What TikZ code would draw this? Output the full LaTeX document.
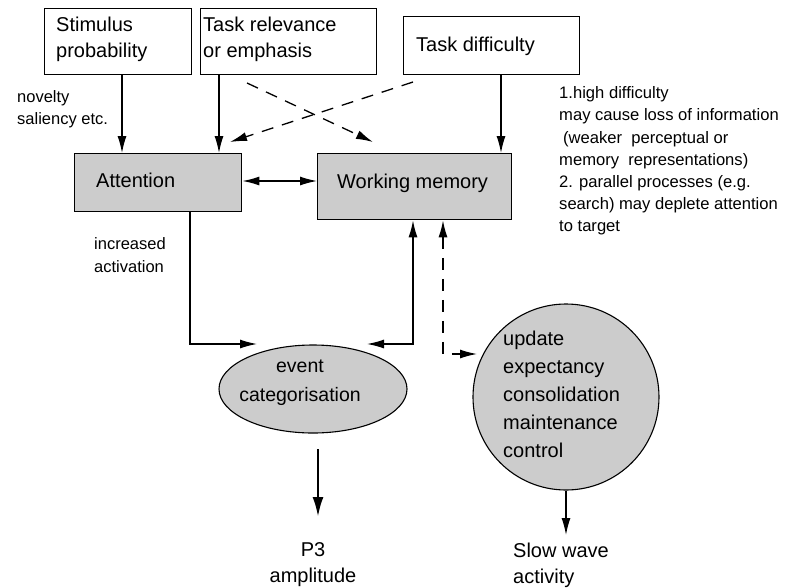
\documentclass[tikz,border=0pt]{standalone}
\usepackage{fontspec}
\setmainfont{Liberation Sans}
\usetikzlibrary{arrows.meta,shapes.geometric,calc}
\definecolor{fillg}{gray}{0.8}
\begin{document}
\begin{tikzpicture}[x=1pt,y=-1pt,
  boxw/.style={draw, line width=1.4pt, rectangle, inner sep=0pt, anchor=north west},
  grayw/.style={boxw, fill=fillg},
  bigtxt/.style={inner sep=0pt, align=left, font=\fontsize{20}{26}\selectfont},
  smalltxt/.style={inner sep=0pt, align=left, font=\fontsize{16.5}{22.5}\selectfont},
  arr/.style={line width=1.3pt, -{Latex[length=17pt,width=9pt]}},
  darr/.style={line width=1.3pt, {Latex[length=17pt,width=9pt]}-{Latex[length=17pt,width=9pt]}},
  dash22/.style={dash pattern=on 12pt off 9pt}
]
\useasboundingbox (0,0) rectangle (788,587);

% top boxes
\node[boxw, minimum width=147pt, minimum height=66pt] (stim) at (44,8) {};
\node[bigtxt, anchor=west] (stimT) at (56,39) {Stimulus\\probability};
\node[boxw, minimum width=176pt, minimum height=66pt] (rel) at (200,8) {};
\node[bigtxt, anchor=west] (relT) at (203,39) {Task relevance\\or emphasis};
\node[boxw, minimum width=176pt, minimum height=58pt] (diff) at (403,16) {};
\node[bigtxt, anchor=west] (diffT) at (416,46) {Task difficulty};

% gray boxes
\node[grayw, minimum width=167pt, minimum height=58pt] (att) at (74,153) {};
\node[bigtxt, anchor=west] (attT) at (96,180) {Attention};
\node[grayw, minimum width=194pt, minimum height=66pt] (wm) at (317,153) {};
\node[bigtxt, anchor=west] (wmT) at (337,183) {Working memory};

% side texts
\node[smalltxt, anchor=west] (nov) at (17,109) {novelty\\saliency etc.};
\node[smalltxt, anchor=west] (inc) at (94,255) {increased\\activation};
\node[inner sep=0pt, align=left, font=\fontsize{16.6}{22.2}\selectfont, anchor=west] (note) at (559,161)
  {1.high difficulty\\may cause loss of information\\\hspace*{4pt}(weaker\ \ perceptual or\\memory\ \ representations)\\2. parallel processes (e.g.\\search) may deplete attention\\to target};

% ellipse and circle
\node[ellipse, draw, line width=1.1pt, fill=fillg, minimum width=188pt, minimum height=88pt, inner sep=0pt] (ev) at (313,389) {};
\node[bigtxt, align=center, font=\fontsize{19.5}{29}\selectfont] (evT) at (300,383) {event\\categorisation};
\node[circle, draw, line width=1.1pt, fill=fillg, minimum size=186pt, inner sep=0pt] (upd) at (566,397) {};
\node[bigtxt, font=\fontsize{20}{28}\selectfont, anchor=west] (updT) at (503,394) {update\\expectancy\\consolidation\\maintenance\\control};

% outputs
\node[bigtxt, align=center] (p3) at (313,565) {P3\\amplitude};
\node[bigtxt, anchor=west] (slow) at (513,565) {Slow wave\\activity};

\coordinate (evL) at (257,344);
\coordinate (evR) at (367,344);
\coordinate (updIn) at (477,354);

% connectors
\draw[arr] (122,0 |- stim.south) -- (122,0 |- att.north);
\draw[arr] (219,0 |- rel.south) -- (219,0 |- att.north);
\draw[arr] (501,0 |- diff.south) -- (501,0 |- wm.north);
\draw[arr, dash22] (247,83) -- (373,142);
\draw[arr, dash22] (413,82) -- (230,142);
\draw[darr] (att.east |- 0,181) -- (wm.west |- 0,181);
\draw[arr] (190,0 |- att.south) |- (evL);
\draw[darr] (413,0 |- wm.south) |- (evR);
\draw[darr, dash22] (443,0 |- wm.south) |- (updIn);
\draw[line width=2.6pt, -{Latex[length=20pt,width=11pt]}] (318,449) -- (318,517);
\draw[arr] (upd.south) -- (566,535);
\end{tikzpicture}
\end{document}
